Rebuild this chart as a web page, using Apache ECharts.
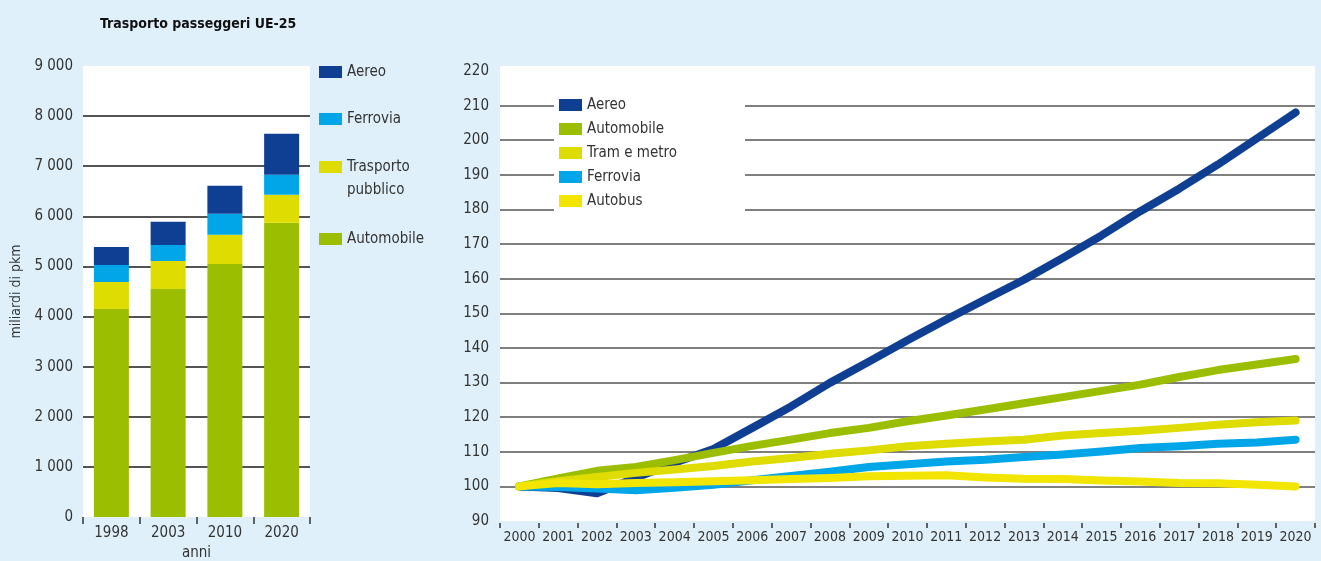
<!DOCTYPE html>
<html>
<head>
<meta charset="utf-8">
<script src="https://cdn.jsdelivr.net/npm/echarts@6/dist/echarts.min.js"></script>
<style>
  html, body { margin: 0; padding: 0; background: #dff0fa; }
  #chart { width: 1321px; height: 561px; }
</style>
</head>
<body>
<div id="chart"></div>
<script>
// grafico a barre: miliardi di pkm
const barYears = ['1998', '2003', '2010', '2020']
const barAutomobile = [4150, 4550, 5050, 5870]
const barPubblico = [540, 560, 580, 560]
const barFerrovia = [340, 320, 420, 400]
const barAereo = [360, 460, 560, 820]

// grafico a linee: indice 2000 = 100
const lineYears = ['2000', '2001', '2002', '2003', '2004', '2005', '2006', '2007', '2008', '2009', '2010',
  '2011', '2012', '2013', '2014', '2015', '2016', '2017', '2018', '2019', '2020']
const idxAereo = [100, 99.5, 98, 102.5, 106.8, 110.8, 116.9, 123.1, 129.9, 136, 142.2,
  148.2, 154, 159.7, 166, 172.5, 179.5, 186, 193, 200.5, 208]
const idxAutomobile = [100, 102.3, 104.5, 105.6, 107.6, 109.7, 111.7, 113.5, 115.4, 116.9, 118.8,
  120.5, 122.2, 124, 125.8, 127.6, 129.4, 131.6, 133.6, 135.2, 136.8]
const idxTram = [100, 101.5, 102.7, 103.9, 104.9, 105.9, 107.2, 108.2, 109.4, 110.4, 111.6,
  112.3, 113, 113.5, 114.7, 115.4, 116.1, 116.9, 117.8, 118.5, 119]
const idxFerrovia = [100, 99.8, 99.4, 98.9, 99.6, 100.5, 101.8, 103, 104.2, 105.6, 106.4,
  107.2, 107.7, 108.5, 109.2, 110.1, 111.1, 111.6, 112.3, 112.7, 113.5]
const idxAutobus = [100, 101, 100.6, 101, 101.2, 101.5, 101.8, 102.1, 102.4, 102.9, 103.1,
  103.2, 102.6, 102.2, 102.1, 101.7, 101.4, 101, 100.9, 100.5, 100]

const C_AEREO = '#0f3f93'
const C_AUTO = '#9bbf00'
const C_TRAM = '#dedc00'
const C_FERR = '#00a6e8'
const C_BUS = '#f2e500'

const FONT = "'DejaVu Sans Condensed', 'Liberation Sans Narrow', sans-serif"
const TXT = '#333'

const fmtThousands = v => String(v).replace(/\B(?=(\d{3})+(?!\d))/g, ' ')

// colori delle linee di griglia: niente linea sul minimo e sul massimo
function gridColors(n, color) {
  const arr = []
  for (let i = 0; i <= n; i++) arr.push(i === 0 || i === n ? 'rgba(0,0,0,0)' : color)
  return arr
}

function smallLegend(name, top, text) {
  return {
    data: [name],
    left: 319,
    top: top,
    padding: 0,
    icon: 'rect',
    itemWidth: 23,
    itemHeight: 12,
    formatter: text ? () => text : undefined,
    textStyle: { fontFamily: FONT, fontSize: 15, color: TXT, lineHeight: 23 }
  }
}

const chart = echarts.init(document.getElementById('chart'))

function lineSerie(name, data, color, z) {
  return {
    name: name,
    type: 'line',
    xAxisIndex: 1,
    yAxisIndex: 1,
    data: data,
    z: z,
    showSymbol: false,
    symbol: 'none',
    color: color,
    lineStyle: { width: 8, color: color, cap: 'round', join: 'round' }
  }
}

const option = {
  animation: false,
  backgroundColor: '#dff0fa',
  textStyle: { fontFamily: FONT },
  title: {
    text: 'Trasporto passeggeri UE-25',
    left: 100,
    top: 17,
    padding: 0,
    textStyle: { fontFamily: FONT, fontSize: 14, fontWeight: 'bold', color: '#111' }
  },
  graphic: [
    { type: 'rect', left: 500, top: 66, z: 0, shape: { width: 815, height: 6 }, style: { fill: '#fff' } },
    { type: 'rect', left: 554, top: 93, z: 1, shape: { width: 191, height: 121 }, style: { fill: '#fff' } }
  ],
  legend: [
    smallLegend('Aereo', 60.5),
    smallLegend('Ferrovia', 107.5),
    smallLegend('Trasporto pubblico', 132.5, ' \nTrasporto\npubblico'),
    smallLegend('Automobile', 227.5),
    {
      data: ['Aereo', 'Automobile', 'Tram e metro', 'Ferrovia', 'Autobus'],
      orient: 'vertical',
      left: 559,
      top: 93,
      padding: 0,
      itemGap: 0,
      z: 5,
      icon: 'rect',
      itemWidth: 23,
      itemHeight: 12,
      textStyle: { fontFamily: FONT, fontSize: 15, color: TXT, lineHeight: 24 }
    }
  ],
  grid: [
    { left: 83, width: 227, top: 66, height: 451, show: true, backgroundColor: '#fff', borderWidth: 0, outerBoundsMode: 'none' },
    { left: 500, right: 6, top: 71, bottom: 40, show: true, backgroundColor: '#fff', borderWidth: 0, outerBoundsMode: 'none' }
  ],
  xAxis: [
    {
      gridIndex: 0,
      type: 'category',
      data: barYears,
      name: 'anni',
      nameLocation: 'middle',
      nameGap: 29,
      nameTextStyle: { fontFamily: FONT, fontSize: 15, color: TXT },
      axisLine: { show: false },
      axisTick: { show: true, length: 7, lineStyle: { color: '#333', width: 1.5 } },
      axisLabel: { margin: 9, fontFamily: FONT, fontSize: 15, color: TXT }
    },
    {
      gridIndex: 1,
      type: 'category',
      data: lineYears,
      offset: 2,
      axisLine: { show: false },
      axisTick: { show: true, length: 5, lineStyle: { color: '#333', width: 1.5 } },
      axisLabel: { margin: 7, fontFamily: FONT, fontSize: 14, color: TXT, interval: 0 }
    }
  ],
  yAxis: [
    {
      gridIndex: 0,
      type: 'value',
      min: 0,
      max: 9000,
      interval: 1000,
      name: 'miliardi di pkm',
      nameLocation: 'middle',
      nameGap: 60,
      nameTextStyle: { fontFamily: FONT, fontSize: 14, color: TXT },
      axisLine: { show: false },
      axisTick: { show: false },
      axisLabel: { margin: 10, fontFamily: FONT, fontSize: 15, color: TXT, formatter: fmtThousands },
      splitLine: { show: true, lineStyle: { color: gridColors(9, '#1a1a1a'), width: 1.5 } }
    },
    {
      gridIndex: 1,
      type: 'value',
      min: 90,
      max: 220,
      interval: 10,
      axisLine: { show: false },
      axisTick: { show: false },
      axisLabel: { margin: 11, fontFamily: FONT, fontSize: 15, color: TXT },
      splitLine: { show: true, lineStyle: { color: gridColors(13, '#555'), width: 1.5 } }
    }
  ],
  series: [
    { name: 'Automobile', type: 'bar', stack: 'tot', barWidth: 35, data: barAutomobile, itemStyle: { color: C_AUTO } },
    { name: 'Trasporto pubblico', type: 'bar', stack: 'tot', data: barPubblico, itemStyle: { color: C_TRAM } },
    { name: 'Ferrovia', type: 'bar', stack: 'tot', data: barFerrovia, itemStyle: { color: C_FERR } },
    { name: 'Aereo', type: 'bar', stack: 'tot', data: barAereo, itemStyle: { color: C_AEREO } },
    lineSerie('Aereo', idxAereo, C_AEREO, 2),
    lineSerie('Ferrovia', idxFerrovia, C_FERR, 3),
    lineSerie('Automobile', idxAutomobile, C_AUTO, 4),
    lineSerie('Tram e metro', idxTram, C_TRAM, 5),
    lineSerie('Autobus', idxAutobus, C_BUS, 6)
  ]
}

chart.setOption(option)
</script>
</body>
</html>
